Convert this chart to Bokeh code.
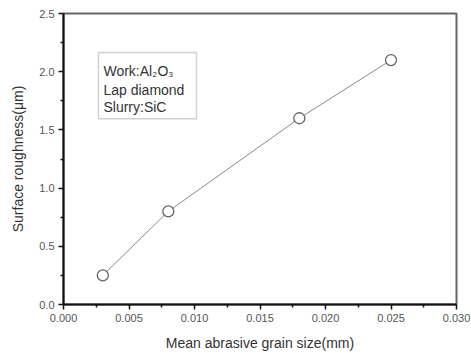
from bokeh.plotting import figure
from bokeh.models import Label, BoxAnnotation, FixedTicker, NumeralTickFormatter
from bokeh.embed import file_html
from bokeh.resources import INLINE

grain_size = [0.003, 0.008, 0.018, 0.025]
roughness = [0.25, 0.80, 1.60, 2.10]
x_ticks = [0.000, 0.005, 0.010, 0.015, 0.020, 0.025, 0.030]
y_ticks = [0.0, 0.5, 1.0, 1.5, 2.0, 2.5]
x_label = "Mean abrasive grain size(mm)"
y_label = "Surface roughness(\u03bcm)"

FONT = "Liberation Sans"

p = figure(width=471, height=353, x_range=(0, 0.03), y_range=(0, 2.5),
           output_backend="svg", toolbar_location=None,
           min_border_left=63, min_border_right=15, min_border_top=13, min_border_bottom=49)
p.xgrid.visible = False
p.ygrid.visible = False
p.background_fill_color = "white"
p.border_fill_color = "white"
p.outline_line_color = "#666666"
p.outline_line_width = 2

for ax in (p.xaxis[0], p.yaxis[0]):
    ax.axis_line_color = "#111111"
    ax.axis_line_width = 2
    ax.major_tick_line_color = "#111111"
    ax.major_tick_line_width = 1.5
    ax.minor_tick_line_color = "#111111"
    ax.minor_tick_line_width = 1.5
    ax.major_tick_out = 5
    ax.major_tick_in = 0
    ax.minor_tick_out = 3
    ax.minor_tick_in = 0
    ax.major_label_text_font = FONT
    ax.major_label_text_font_size = "11px"
    ax.major_label_text_color = "#555555"
    ax.axis_label_text_font = FONT
    ax.axis_label_text_font_size = "14px"
    ax.axis_label_text_font_style = "normal"
    ax.axis_label_text_color = "#333333"

p.xaxis.ticker = FixedTicker(ticks=x_ticks, minor_ticks=[0.0025, 0.0075, 0.0125, 0.0175, 0.0225, 0.0275])
p.yaxis.ticker = FixedTicker(ticks=y_ticks, minor_ticks=[0.25, 0.75, 1.25, 1.75, 2.25])
p.xaxis.formatter = NumeralTickFormatter(format="0.000")
p.yaxis.formatter = NumeralTickFormatter(format="0.0")
p.xaxis.axis_label = x_label
p.yaxis.axis_label = y_label
p.xaxis.major_label_standoff = 4
p.yaxis.major_label_standoff = 4
p.xaxis.axis_label_standoff = 10
p.yaxis.axis_label_standoff = 10

p.line(grain_size, roughness, line_color="#8a8a8a", line_width=1)
p.scatter(grain_size, roughness, marker="circle", size=11, fill_color="white",
          line_color="#666666", line_width=1.3)

# annotation box
p.add_layout(BoxAnnotation(left=0.00267, right=0.01015, bottom=1.595, top=2.164,
                           fill_color="white", fill_alpha=1.0,
                           line_color="#666666", line_width=1.5))

tx = 0.00305
dy = 0.036
common = dict(text_font=FONT, text_color="#333333", text_baseline="alphabetic")
p.add_layout(Label(x=tx, y=1.966 + dy, text="Work:Al", text_font_size="14px", **common))
p.add_layout(Label(x=tx, y=1.940 + dy, x_offset=49, text="2", text_font_size="8px", **common))
p.add_layout(Label(x=tx, y=1.966 + dy, x_offset=54, text="O", text_font_size="14px", **common))
p.add_layout(Label(x=tx, y=1.940 + dy, x_offset=65, text="3", text_font_size="8px", **common))
p.add_layout(Label(x=tx, y=1.810 + dy, text="Lap diamond", text_font_size="14px", **common))
p.add_layout(Label(x=tx, y=1.664 + dy, text="Slurry:SiC", text_font_size="14px", **common))

open("out.html", "w").write(file_html(p, INLINE))
